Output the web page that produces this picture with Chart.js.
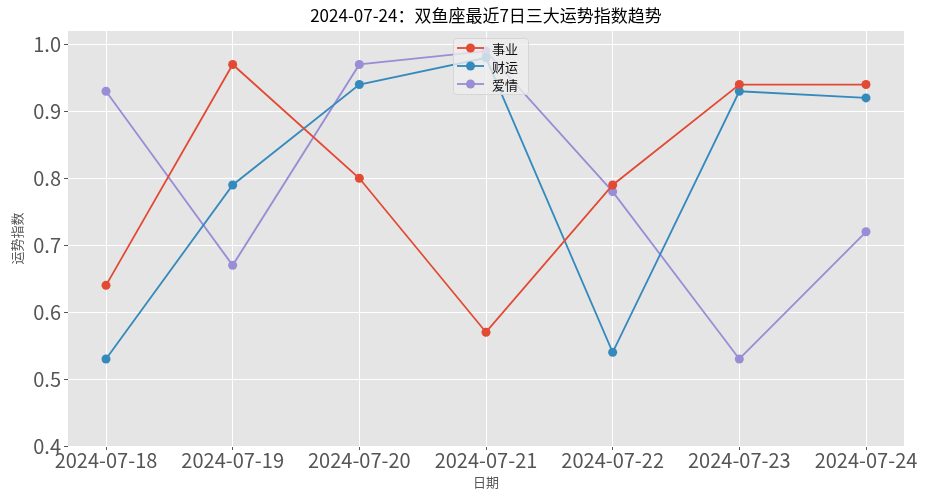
<!DOCTYPE html>
<html>
<head>
<meta charset="utf-8">
<title>双鱼座运势趋势</title>
<script src="https://cdn.jsdelivr.net/npm/chart.js@4.4.0/dist/chart.umd.min.js"></script>
<style>
  html, body { margin: 0; padding: 0; background: #fff; }
  #wrap { width: 929px; height: 500px; }
</style>
</head>
<body>
<div id="wrap"><canvas id="myChart" width="929" height="500"></canvas></div>
<script>
// data
var dates = ["2024-07-18","2024-07-19","2024-07-20","2024-07-21","2024-07-22","2024-07-23","2024-07-24"];
var career = [0.64, 0.97, 0.80, 0.57, 0.79, 0.94, 0.94];
var wealth = [0.53, 0.79, 0.94, 0.98, 0.54, 0.93, 0.92];
var love   = [0.93, 0.67, 0.97, 0.99, 0.78, 0.53, 0.72];
var yTicks = [0.4, 0.5, 0.6, 0.7, 0.8, 0.9, 1.0];

var titleText = "2024-07-24：双鱼座最近7日三大运势指数趋势";
var FONT = "'Noto Sans CJK SC', 'Noto Sans', sans-serif";

function pts(arr) {
  return arr.map(function(v, i){ return {x: i, y: v}; });
}

var series = [
  {label: "事业", data: career, color: "#E24A33"},
  {label: "财运", data: wealth, color: "#348ABD"},
  {label: "爱情", data: love,   color: "#988ED5"}
];

// grey panel + title + legend
var panelPlugin = {
  id: "panel",
  beforeDraw: function(chart) {
    var a = chart.chartArea, ctx = chart.ctx;
    ctx.save();
    ctx.fillStyle = "#E5E5E5";
    ctx.fillRect(a.left, a.top, a.right - a.left, a.bottom - a.top);
    ctx.restore();
  },
  afterDraw: function(chart) {
    var a = chart.chartArea, ctx = chart.ctx;
    ctx.save();
    ctx.fillStyle = "#000";
    ctx.font = "17px " + FONT;
    ctx.textAlign = "center";
    ctx.textBaseline = "middle";
    ctx.fillText(titleText, (a.left + a.right) / 2, 16);

    // legend inside the plot, top centre
    var bx = 453, by = 38, bw = 75, bh = 56;
    ctx.fillStyle = "rgba(238,238,238,0.8)";
    ctx.strokeStyle = "#d6d6d6";
    ctx.lineWidth = 1;
    ctx.beginPath();
    ctx.roundRect(bx + 0.5, by + 0.5, bw, bh, 3);
    ctx.fill();
    ctx.stroke();
    ctx.font = "13px " + FONT;
    ctx.textAlign = "left";
    series.forEach(function(s, i) {
      var y = by + 10 + i * 18;
      ctx.strokeStyle = s.color;
      ctx.lineWidth = 1.8;
      ctx.beginPath();
      ctx.moveTo(bx + 4, y);
      ctx.lineTo(bx + 31, y);
      ctx.stroke();
      ctx.fillStyle = s.color;
      ctx.beginPath();
      ctx.arc(bx + 17.5, y, 4.5, 0, Math.PI * 2);
      ctx.fill();
      ctx.fillStyle = "#111";
      ctx.fillText(s.label, bx + 39, y + 1);
    });
    ctx.restore();
  }
};

var ctx = document.getElementById("myChart").getContext("2d");
var myChart = new Chart(ctx, {
  type: "line",
  data: {
    datasets: series.map(function(s) {
      return {
        label: s.label,
        data: pts(s.data),
        borderColor: s.color,
        backgroundColor: s.color,
        borderWidth: 1.8,
        pointRadius: 4.5,
        pointHoverRadius: 4.5,
        pointBorderWidth: 0,
        tension: 0
      };
    })
  },
  options: {
    responsive: false,
    animation: false,
    events: [],
    layout: { padding: { top: 31, right: 25, bottom: 10, left: 9 } },
    plugins: {
      legend: { display: false },
      title: { display: false },
      tooltip: { enabled: false }
    },
    scales: {
      x: {
        type: "linear",
        min: -0.3,
        max: 6.3,
        afterBuildTicks: function(axis) {
          axis.ticks = dates.map(function(d, i){ return {value: i}; });
        },
        afterFit: function(axis) { axis.height = 44; },
        ticks: {
          color: "#555",
          font: { family: FONT, size: 20 },
          padding: -2,
          maxRotation: 0,
          autoSkip: false,
          callback: function(v) { return dates[v]; }
        },
        grid: { color: "#fff", lineWidth: 1, tickColor: "#555", tickLength: 4 },
        border: { display: false },
        title: {
          display: true,
          text: "日期",
          color: "#555",
          font: { family: FONT, size: 13 },
          padding: { top: 0, bottom: 0 }
        }
      },
      y: {
        min: 0.4,
        max: 1.02,
        afterBuildTicks: function(axis) {
          axis.ticks = yTicks.map(function(v){ return {value: v}; });
        },
        afterFit: function(axis) { axis.width = 59; },
        ticks: {
          color: "#555",
          font: { family: FONT, size: 20 },
          padding: 3,
          callback: function(v) { return v.toFixed(1); }
        },
        grid: { color: "#fff", lineWidth: 1, tickColor: "#555", tickLength: 4 },
        border: { display: false },
        title: {
          display: true,
          text: "运势指数",
          color: "#555",
          font: { family: FONT, size: 13 },
          padding: { top: 0, bottom: 0 }
        }
      }
    }
  },
  plugins: [panelPlugin]
});
</script>
</body>
</html>
